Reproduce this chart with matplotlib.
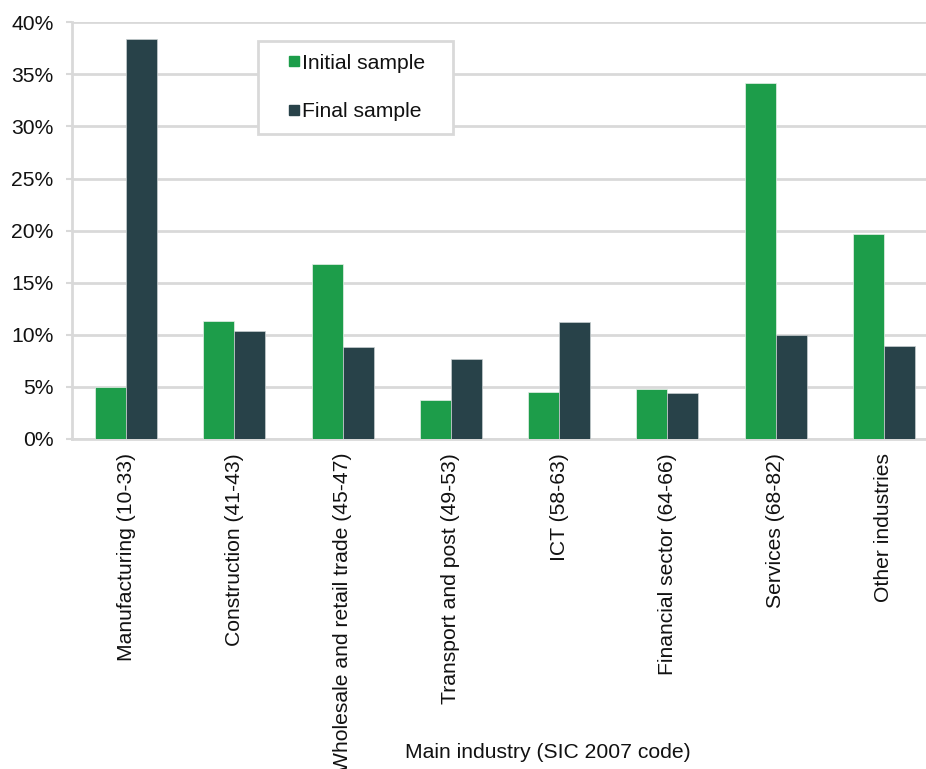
import matplotlib.pyplot as plt
import numpy as np
from matplotlib.lines import Line2D

plt.rcParams['font.family'] = ['Liberation Sans', 'DejaVu Sans']

# Share of firms by main industry (%)
industries = ['Manufacturing (10-33)', 'Construction (41-43)', 'Wholesale and retail trade (45-47)',
              'Transport and post (49-53)', 'ICT (58-63)', 'Financial sector (64-66)',
              'Services (68-82)', 'Other industries']
initial_sample = [5.0, 11.3, 16.8, 3.7, 4.5, 4.8, 34.2, 19.7]
final_sample = [38.4, 10.4, 8.85, 7.65, 11.2, 4.4, 10.0, 8.9]

green = '#1d9d4a'
dark = '#284249'
grid_col = '#d9d9d9'

fig = plt.figure(figsize=(9.26, 7.69), dpi=100)
ax = fig.add_axes([72 / 926, (769 - 439) / 769, (926 - 72) / 926, (439 - 22.3) / 769])

x = np.arange(len(industries))
w = 0.286
ax.bar(x - w / 2, initial_sample, w, color=green, edgecolor='#e8f0ea', linewidth=0.5, zorder=3)
ax.bar(x + w / 2, final_sample, w, color=dark, edgecolor='#c8cfd0', linewidth=0.5, zorder=3)

ax.set_xlim(-0.5, 7.5 - 12 / 108.3)
ax.set_ylim(0, 40)
ax.set_yticks(np.arange(0, 41, 5))
ax.set_yticklabels([f'{v}%' for v in range(0, 41, 5)])
ax.set_xticks(x)
ax.set_xticklabels(industries, rotation=90, va='top', ha='center')

ax.grid(axis='y', color=grid_col, linewidth=2, zorder=0)
for s in ['top', 'right']:
    ax.spines[s].set_visible(False)
ax.spines['left'].set_color(grid_col)
ax.spines['left'].set_linewidth(2)
ax.spines['bottom'].set_color(grid_col)
ax.spines['bottom'].set_linewidth(2)
ax.tick_params(axis='y', length=4.3, width=1.5, color=grid_col, pad=9, labelsize=15.2, labelcolor='#111111')
ax.tick_params(axis='x', length=0, pad=10, labelsize=15.2, labelcolor='#111111')

fig.text(548 / 926, 1 - 752 / 769, 'Main industry (SIC 2007 code)', ha='center', va='center',
         fontsize=15.2, color='#111111')

handles = [Line2D([], [], linestyle='none', marker='s', markersize=7.2, color=green),
           Line2D([], [], linestyle='none', marker='s', markersize=7.2, color=dark)]
bx0, bx1 = 257.7 / 926, 453.3 / 926
by0, by1 = 1 - 132.7 / 769, 1 - 40.7 / 769
leg = fig.legend(handles, ['Initial sample', 'Final sample'], loc='upper left',
                 bbox_to_anchor=(bx0, by0, bx1 - bx0, by1 - by0), mode='expand',
                 fontsize=15.2, frameon=True, fancybox=False, edgecolor=grid_col,
                 handlelength=2.16, handletextpad=-0.67, labelspacing=1.4,
                 borderpad=0.62, borderaxespad=0, framealpha=1)
leg.get_frame().set_linewidth(2)
for t in leg.get_texts():
    t.set_color('#111111')

fig.savefig('out.png', dpi=100)
